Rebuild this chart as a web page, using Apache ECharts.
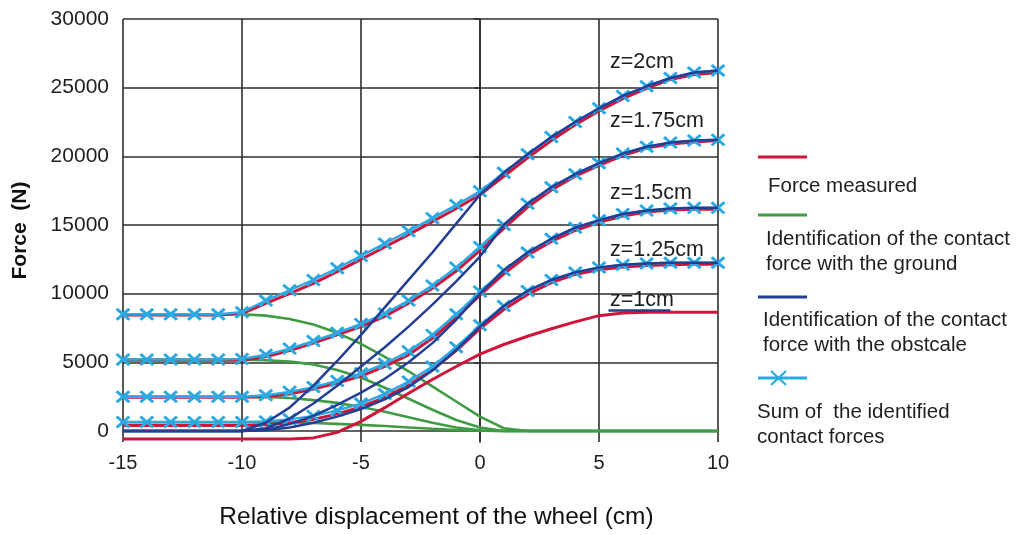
<!DOCTYPE html>
<html>
<head>
<meta charset="utf-8">
<title>Force vs relative displacement of the wheel</title>
<script src="https://cdn.jsdelivr.net/npm/echarts@6/dist/echarts.min.js"></script>
<style>
  html, body { margin: 0; padding: 0; background: #ffffff; }
  #chart { width: 1019px; height: 535px; }
</style>
</head>
<body>
<div id="chart"></div>
<script>
// Relative displacement of the wheel (cm), one sample per centimetre
const displacement = [-15, -14, -13, -12, -11, -10, -9, -8, -7, -6, -5, -4, -3, -2, -1, 0, 1, 2, 3, 4, 5, 6, 7, 8, 9, 10];

// z = 2 cm
const measured2 = [8450, 8450, 8450, 8450, 8450, 8550, 9300, 10000, 10750, 11600, 12500, 13400, 14300, 15250, 16200, 17200, 18550, 19900, 21150, 22300, 23300, 24200, 24950, 25600, 25950, 26100];
const sum2      = [8500, 8500, 8500, 8500, 8500, 8650, 9500, 10250, 11000, 11850, 12750, 13650, 14550, 15500, 16450, 17450, 18800, 20150, 21400, 22500, 23500, 24400, 25100, 25700, 26100, 26250];
const ground2   = [8500, 8500, 8500, 8500, 8500, 8500, 8400, 8150, 7750, 7150, 6350, 5400, 4350, 3250, 2150, 1050, 200, 0, 0, 0, 0, 0, 0, 0, 0, 0];
const obstacle2 = [0, 0, 0, 0, 0, 0, 600, 1700, 3300, 5100, 7000, 9000, 11000, 13000, 15100, 17200, 18800, 20150, 21400, 22500, 23500, 24400, 25100, 25700, 26100, 26250];

// z = 1.75 cm
const measured175 = [5150, 5150, 5150, 5150, 5150, 5150, 5400, 5850, 6400, 7000, 7600, 8350, 9300, 10400, 11650, 13150, 14750, 16300, 17550, 18550, 19350, 20050, 20600, 20900, 21050, 21150];
const sum175      = [5200, 5200, 5200, 5200, 5200, 5250, 5550, 6000, 6550, 7150, 7800, 8550, 9500, 10600, 11900, 13400, 15000, 16550, 17750, 18700, 19500, 20200, 20700, 21000, 21150, 21200];
const ground175   = [5200, 5200, 5200, 5200, 5200, 5200, 5150, 5050, 4850, 4450, 3900, 3150, 2350, 1550, 800, 250, 0, 0, 0, 0, 0, 0, 0, 0, 0, 0];
const obstacle175 = [0, 0, 0, 0, 0, 0, 200, 900, 2000, 3300, 4700, 6100, 7600, 9200, 10900, 12700, 15000, 16550, 17750, 18700, 19500, 20200, 20700, 21000, 21150, 21200];

// z = 1.5 cm
const measured15 = [2450, 2450, 2450, 2450, 2450, 2450, 2500, 2700, 3050, 3500, 4000, 4700, 5550, 6750, 8250, 9900, 11450, 12800, 13800, 14600, 15200, 15650, 15950, 16100, 16150, 16150];
const sum15      = [2500, 2500, 2500, 2500, 2500, 2500, 2600, 2850, 3200, 3650, 4200, 4900, 5800, 7000, 8500, 10150, 11700, 13000, 14000, 14800, 15350, 15800, 16050, 16200, 16250, 16250];
const ground15   = [2500, 2500, 2500, 2500, 2500, 2500, 2480, 2400, 2250, 2050, 1750, 1400, 1000, 600, 250, 50, 0, 0, 0, 0, 0, 0, 0, 0, 0, 0];
const obstacle15 = [0, 0, 0, 0, 0, 0, 100, 500, 1100, 1900, 2800, 3800, 5000, 6400, 8100, 10000, 11700, 13000, 14000, 14800, 15350, 15800, 16050, 16200, 16250, 16250];

// z = 1.25 cm
const measured125 = [400, 400, 400, 400, 400, 400, 450, 600, 850, 1250, 1750, 2450, 3350, 4450, 5850, 7450, 8850, 9950, 10800, 11400, 11750, 11950, 12050, 12100, 12150, 12150];
const sum125      = [650, 650, 650, 650, 650, 650, 700, 850, 1100, 1500, 2000, 2700, 3600, 4700, 6100, 7700, 9100, 10200, 11000, 11550, 11900, 12100, 12200, 12250, 12250, 12250];
const ground125   = [650, 650, 650, 650, 650, 650, 640, 620, 580, 520, 450, 360, 260, 160, 70, 20, 0, 0, 0, 0, 0, 0, 0, 0, 0, 0];
const obstacle125 = [0, 0, 0, 0, 0, 0, 50, 250, 600, 1050, 1600, 2300, 3200, 4400, 5900, 7600, 9100, 10200, 11000, 11550, 11900, 12100, 12200, 12250, 12250, 12250];

// z = 1 cm
const measured1 = [-580, -580, -580, -580, -580, -580, -580, -580, -500, -100, 700, 1700, 2750, 3750, 4700, 5600, 6300, 6900, 7450, 7950, 8400, 8600, 8640, 8640, 8640, 8640];
const obstacle1X = [5.4, 8.0];
const obstacle1  = [8780, 8780];

const yTicks = [0, 5000, 10000, 15000, 20000, 25000, 30000];
const curveLabels = ['z=2cm', 'z=1.75cm', 'z=1.5cm', 'z=1.25cm', 'z=1cm'];
const legendLabels = [
  'Force measured',
  'Identification of the contact\nforce with the ground',
  'Identification of the contact\nforce with the obstcale',
  'Sum of  the identified\ncontact forces'
];

const FONT = "'Liberation Sans', Arial, Helvetica, sans-serif";
const RED = '#d0153b';
const GREEN = '#3f9c44';
const NAVY = '#233f95';
const SKY = '#2aa9e2';
const GRID = '#2e2e2e';
const CROSS = 'path://M1.5,0L5,3.5L8.5,0L10,1.5L6.5,5L10,8.5L8.5,10L5,6.5L1.5,10L0,8.5L3.5,5L0,1.5Z';

function pairs(values, xs) {
  const x = xs || displacement;
  return values.map((v, i) => [x[i], v]);
}

const groundSets = [ground2, ground175, ground15, ground125];
const measuredSets = [measured2, measured175, measured15, measured125, measured1];
const sumSets = [sum2, sum175, sum15, sum125];
const obstacleSets = [obstacle2, obstacle175, obstacle15, obstacle125];

const series = [];
groundSets.forEach(v => series.push({
  type: 'line', data: pairs(v), showSymbol: false, silent: true, z: 2,
  lineStyle: { color: GREEN, width: 2.6 }
}));
measuredSets.forEach(v => series.push({
  type: 'line', data: pairs(v), showSymbol: false, silent: true, z: 3,
  lineStyle: { color: RED, width: 3 }
}));
sumSets.forEach(v => series.push({
  type: 'line', data: pairs(v), symbol: CROSS, symbolSize: [15, 13], showAllSymbol: true,
  silent: true, z: 4,
  itemStyle: { color: SKY }, lineStyle: { color: SKY, width: 2.4 }
}));
obstacleSets.forEach(v => series.push({
  type: 'line', data: pairs(v), showSymbol: false, silent: true, z: 5,
  lineStyle: { color: NAVY, width: 2.5 }
}));
series.push({
  type: 'line', data: pairs(obstacle1, obstacle1X), showSymbol: false, silent: true, z: 5,
  lineStyle: { color: NAVY, width: 2.5 }
});

// Legend: a sample line above each description
const legendGraphics = [];
const legendRows = [
  { color: RED, lineY: 157, textX: 768, textY: 174 },
  { color: GREEN, lineY: 215, textX: 766, textY: 227 },
  { color: NAVY, lineY: 297, textX: 763, textY: 308 },
  { color: SKY, lineY: 378, textX: 757, textY: 400, cross: true }
];
legendRows.forEach((row, i) => {
  legendGraphics.push({
    type: 'line', shape: { x1: 758, y1: row.lineY, x2: 807, y2: row.lineY },
    style: { stroke: row.color, lineWidth: 3 }
  });
  if (row.cross) {
    legendGraphics.push({
      type: 'line', shape: { x1: 771, y1: row.lineY - 7, x2: 786, y2: row.lineY + 7 },
      style: { stroke: row.color, lineWidth: 2.2 }
    });
    legendGraphics.push({
      type: 'line', shape: { x1: 771, y1: row.lineY + 7, x2: 786, y2: row.lineY - 7 },
      style: { stroke: row.color, lineWidth: 2.2 }
    });
  }
  legendGraphics.push({
    type: 'text', x: row.textX, y: row.textY,
    style: { text: legendLabels[i], font: '20.5px ' + FONT, fill: '#1e1e1e', lineHeight: 25, verticalAlign: 'top' }
  });
});

// Curve labels near the right end of each family
const labelY = [62, 121, 193, 250, 300];
curveLabels.forEach((t, i) => {
  legendGraphics.push({
    type: 'text', x: 610, y: labelY[i], z: 10,
    style: { text: t, font: '21.5px ' + FONT, fill: '#1e1e1e', verticalAlign: 'middle' }
  });
});

const chart = echarts.init(document.getElementById('chart'));
chart.setOption({
  animation: false,
  backgroundColor: '#ffffff',
  grid: { left: 123, right: 301, top: 19, bottom: 92, containLabel: false },
  xAxis: {
    type: 'value', min: -15, max: 10, interval: 5,
    axisLine: { show: false },
    axisTick: { show: false },
    axisLabel: { fontSize: 20, margin: 11, color: '#1e1e1e', fontFamily: FONT, formatter: v => String(v) },
    splitLine: { show: true, lineStyle: { color: GRID, width: 1.6 } },
    name: 'Relative displacement of the wheel (cm)',
    nameLocation: 'middle', nameGap: 63,
    nameTextStyle: { fontSize: 24.5, color: '#111', fontFamily: FONT, padding: [0, 0, 0, 32] }
  },
  yAxis: {
    type: 'value', min: -800, max: 30000,
    axisLine: { show: true, lineStyle: { color: GRID, width: 1.6 } },
    axisTick: { show: true, length: 6, customValues: yTicks, lineStyle: { color: GRID, width: 1.5 } },
    axisLabel: { customValues: yTicks, fontSize: 21, margin: 14, color: '#1e1e1e', fontFamily: FONT, formatter: v => String(v) },
    splitLine: { show: true, lineStyle: { color: GRID, width: 1.6 } },
    name: 'Force  (N)', nameLocation: 'middle', nameGap: 92, nameRotate: 90,
    nameTextStyle: { fontSize: 21, fontWeight: 'bold', color: '#111', fontFamily: FONT }
  },
  graphic: legendGraphics,
  series: series
});
</script>
</body>
</html>
